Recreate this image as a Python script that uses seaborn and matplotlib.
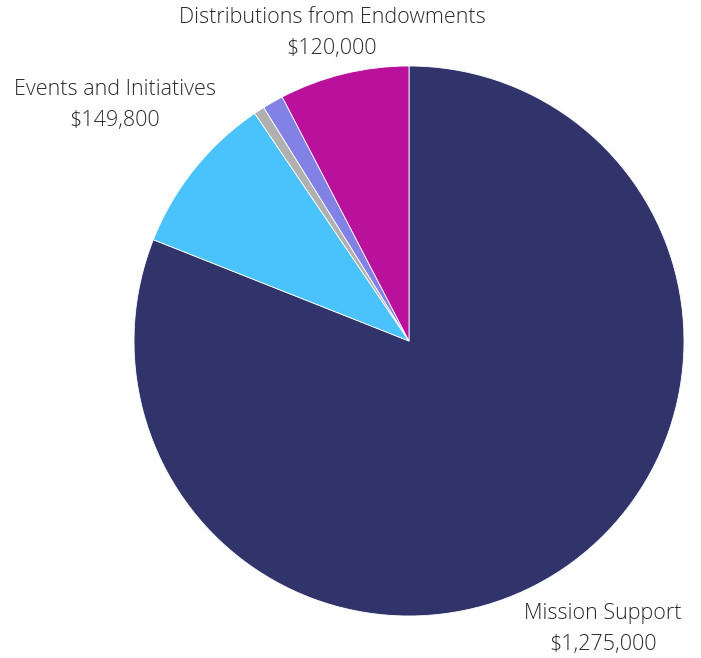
import matplotlib
matplotlib.use("Agg")
import matplotlib.pyplot as plt
import seaborn as sns

categories = ["Mission Support", "Events and Initiatives", "Other A", "Other B", "Distributions from Endowments"]
values = [1275000, 149800, 9800, 19400, 120000]
colors = ["#31346B", "#4AC3FC", "#B0B0B0", "#8282E6", "#BA119C"]
shown_labels = {"Mission Support": "$1,275,000",
                "Events and Initiatives": "$149,800",
                "Distributions from Endowments": "$120,000"}

sns.set_theme(style="white")
plt.rcParams['font.family'] = ['Open Sans', 'DejaVu Sans']

W, H = 701, 658
fig = plt.figure(figsize=(W / 100, H / 100), dpi=100)
cx, cy, r = 409, 341, 275
ax = fig.add_axes([(cx - r) / W, (H - cy - r) / H, 2 * r / W, 2 * r / H])
ax.pie(values, colors=colors, startangle=90, counterclock=False, radius=1,
       wedgeprops=dict(edgecolor="white", linewidth=0.6))
ax.set_xlim(-1, 1)
ax.set_ylim(-1, 1)
ax.set_aspect("equal")
ax.axis("off")

label_pos = {"Distributions from Endowments": (332, 33),
             "Events and Initiatives": (115, 105),
             "Mission Support": (603, 629)}
for name, (x, y) in label_pos.items():
    fig.text(x / W, 1 - y / H, f"{name}\n{shown_labels[name]}", ha="center", va="center",
             fontsize=15.5, color="#2b2b2b", fontweight="light", linespacing=1.58)

fig.savefig("out.png", dpi=100)
